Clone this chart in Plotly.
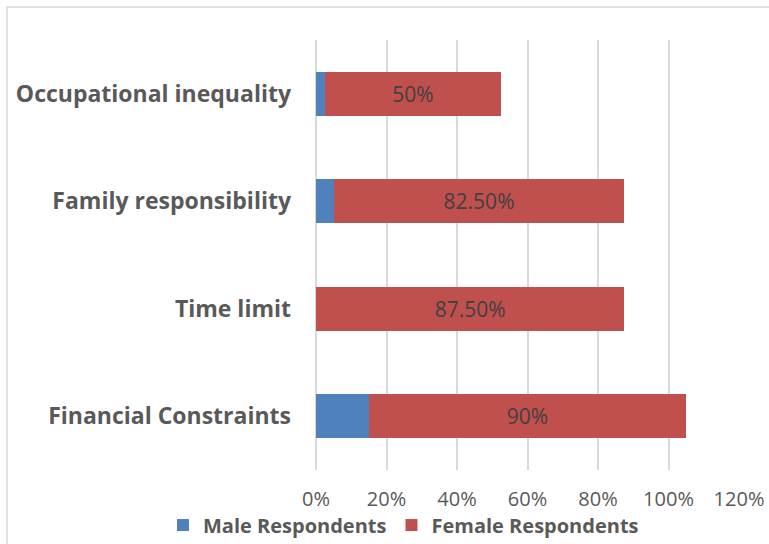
import plotly.graph_objects as go

categories = ["Financial Constraints", "Time limit", "Family responsibility", "Occupational inequality"]
male = [0.15, 0.0, 0.05, 0.025]
female = [0.90, 0.875, 0.825, 0.50]
female_labels = ["90%", "87.50%", "82.50%", "50%"]
tick_vals = [0, 0.2, 0.4, 0.6, 0.8, 1.0, 1.2]
tick_text = ["0%", "20%", "40%", "60%", "80%", "100%", "120%"]

FONT = "Open Sans, sans-serif"

fig = go.Figure()
fig.add_trace(go.Bar(
    y=categories, x=male, orientation="h", name="Male Respondents",
    marker=dict(color="#4F81BD", line=dict(width=0)), hoverinfo="skip",
))
fig.add_trace(go.Bar(
    y=categories, x=female, orientation="h", name="Female Respondents",
    marker=dict(color="#C0504D", line=dict(width=0)),
    text=female_labels, textposition="inside", insidetextanchor="middle",
    textfont=dict(size=21, color="#404040", family=FONT), hoverinfo="skip",
))

fig.update_layout(
    barmode="stack",
    bargap=0.59,
    width=769, height=544,
    margin=dict(l=316, r=30, t=40, b=74, autoexpand=False),
    paper_bgcolor="white", plot_bgcolor="white",
    font=dict(family=FONT, color="#595959"),
    showlegend=True,
    legend=dict(
        orientation="h",
        x=(163 - 316) / 423, xanchor="left", y=-0.128, yanchor="middle",
        font=dict(size=20, color="#595959", family=FONT, weight="bold"),
        itemwidth=30, traceorder="normal",
    ),
    xaxis=dict(
        range=[0, 1.2], tickvals=tick_vals, ticktext=tick_text,
        showgrid=True, gridcolor="#D9D9D9", gridwidth=1.5,
        zeroline=True, zerolinecolor="#D9D9D9", zerolinewidth=1.5,
        showline=False, automargin=False,
        tickfont=dict(size=20, color="#595959", family=FONT),
        ticklabelstandoff=15,
    ),
    yaxis=dict(
        showgrid=False, zeroline=False, showline=False, automargin=False,
        tickfont=dict(size=23, color="#595959", family=FONT, weight="bold"),
        ticklabelstandoff=24,
    ),
    shapes=[dict(
        type="rect", xref="paper", yref="paper",
        x0=(7 - 316) / 423, x1=(800 - 316) / 423,
        y0=(470 - 560) / 430, y1=(470 - 7) / 430,
        line=dict(color="#D9D9D9", width=1.5), layer="below",
    )],
)

fig.write_html("out.html")
